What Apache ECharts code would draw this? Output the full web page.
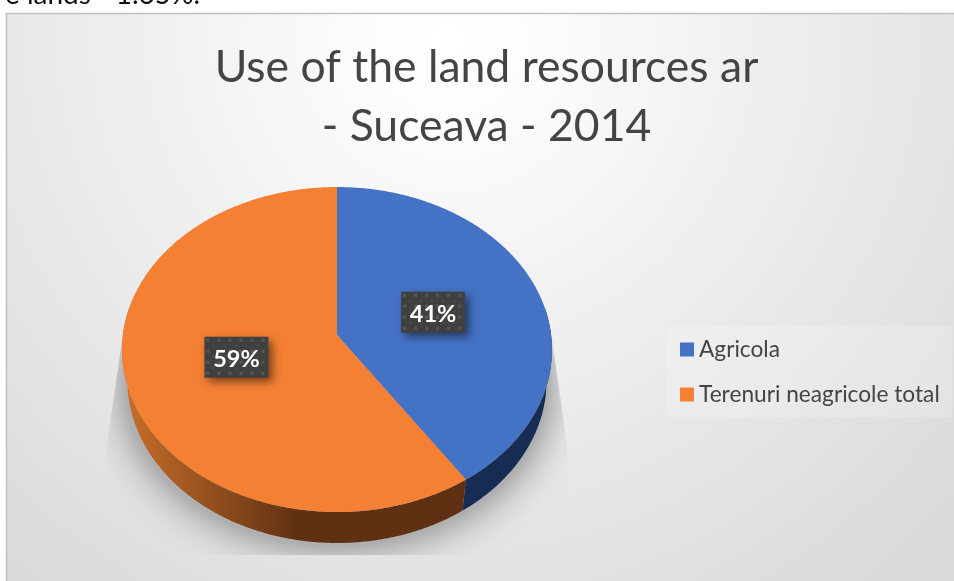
<!DOCTYPE html>
<html>
<head>
<meta charset="utf-8">
<style>html,body{margin:0;padding:0;background:#fff}#c{width:954px;height:581px}</style>
<script src="https://cdn.jsdelivr.net/npm/echarts@6/dist/echarts.min.js"></script>
</head>
<body>
<div id="c"></div>
<script>
const categories = ['Agricola', 'Terenuri neagricole total'];
const shares = [40.6, 59.4];
const titleLines = ['Use of the land resources ar', '- Suceava - 2014'];
const clippedNote = 'e lands - 1.65%.';

const total = shares.reduce((a, b) => a + b, 0);
const FONT = 'Lato, "Open Sans", sans-serif';
const CX = 337, CY = 335, RX = 214.1, RY = 161.2, K = 0.0893, DEPTH = 31, SHRINK = 0.975;

function project(deg, rho) {
  const t = deg * Math.PI / 180, u = rho * Math.sin(t), v = -rho * Math.cos(t), w = 1 - K * v;
  return [CX + RX * u / w, CY + RY * v / w];
}
function arc(a, b) {
  const pts = [], n = Math.max(2, Math.ceil(Math.abs(b - a) * 2));
  for (let i = 0; i <= n; i++) pts.push(project(a + (b - a) * i / n, 1));
  return pts;
}
function sliceAngles(i) {
  let s = 0;
  for (let j = 0; j < i; j++) s += shares[j];
  return [s / total * 360, (s + shares[i]) / total * 360];
}
const dots = document.createElement('canvas');
dots.width = dots.height = 11;
(function () {
  const g = dots.getContext('2d');
  g.fillStyle = '#404040'; g.fillRect(0, 0, 11, 11);
  g.fillStyle = '#575757'; g.fillRect(2, 2, 3, 3);
  g.fillStyle = '#4c4c4c'; g.fillRect(8, 8, 2, 2);
})();

function renderSlice(i, sideFill, topFill) {
  return function () {
    const [a, b] = sliceAngles(i);
    const fa = Math.max(a, 80), fb = Math.min(b, 280);
    const top = arc(fa, fb);
    const low = top.slice().reverse().map(p => [CX + (p[0] - CX) * SHRINK, p[1] + DEPTH]);
    const face = [project(0, 0)].concat(arc(a, b));
    const mid = project((a + b) / 2, 0.48);
    const pct = Math.round(shares[i] / total * 100) + '%';
    return {
      type: 'group',
      children: [
        { type: 'polygon', shape: { points: top.concat(low) }, style: { fill: sideFill } },
        { type: 'polygon', shape: { points: face }, style: { fill: topFill } },
        {
          type: 'rect', x: mid[0] - 33, y: mid[1] - 21,
          shape: { x: 0, y: 0, width: 64, height: 41 },
          style: {
            fill: { image: dots, repeat: 'repeat' },
            shadowBlur: 8, shadowOffsetX: 4, shadowOffsetY: 4, shadowColor: 'rgba(0,0,0,0.5)'
          }
        },
        {
          type: 'text', x: mid[0] - 1, y: mid[1] + 1.5,
          style: {
            text: pct, fill: '#fff', font: 'bold 23.5px ' + FONT,
            align: 'center', verticalAlign: 'middle'
          }
        }
      ]
    };
  };
}

function renderShadow() {
  return {
    type: 'ellipse',
    shape: { cx: 337, cy: 385, rx: 212, ry: 160 },
    style: { fill: '#b0b0b0', shadowBlur: 44, shadowColor: 'rgba(110,110,110,0.95)' },
    clipPath: {
      type: 'polygon',
      shape: { points: [[122, 340], [107, 445], [107, 555], [567, 555], [567, 445], [552, 340]] }
    }
  };
}

const chart = echarts.init(document.getElementById('c'), null, { renderer: 'canvas' });
chart.setOption({
  animation: false,
  backgroundColor: '#ffffff',
  title: {
    text: titleLines.join('\n'),
    left: 481.5, top: 33, textAlign: 'center',
    textStyle: { fontFamily: FONT, fontWeight: 'normal', fontSize: 44.5, lineHeight: 59, color: '#444444' }
  },
  legend: {
    data: categories,
    orient: 'vertical', left: 667, top: 326,
    padding: [12, 12, 11, 13],
    backgroundColor: 'rgba(255,255,255,0.2)',
    itemWidth: 14, itemHeight: 14, itemGap: 22, icon: 'rect',
    selectedMode: false,
    textStyle: { fontFamily: FONT, fontSize: 22.7, color: '#444444' }
  },
  graphic: [
    {
      type: 'rect', z: -10, silent: true,
      shape: { x: 6.5, y: 13.5, width: 960, height: 580 },
      style: {
        stroke: '#bfbfbf', lineWidth: 1.5,
        fill: new echarts.graphic.RadialGradient(450, 40, 700, [
          { offset: 0, color: '#ffffff' }, { offset: 0.1, color: '#fdfdfd' }, { offset: 1, color: '#d9d9d9' }
        ], true)
      }
    },
    {
      type: 'text', z: -5, silent: true, x: 5, y: 9,
      style: { text: clippedNote, fill: '#111', font: '28px ' + FONT, verticalAlign: 'bottom' }
    }
  ],
  series: [
    { type: 'custom', name: 'shadow', coordinateSystem: 'none', z: 1, silent: true, data: [[0]], renderItem: renderShadow },
    {
      type: 'custom', name: categories[0], coordinateSystem: 'none', z: 2, silent: true,
      itemStyle: { color: '#4472c4' }, data: [[shares[0]]],
      renderItem: renderSlice(0, '#172c52', '#4472c4')
    },
    {
      type: 'custom', name: categories[1], coordinateSystem: 'none', z: 2, silent: true,
      itemStyle: { color: '#f38033' }, data: [[shares[1]]],
      renderItem: renderSlice(1,
        new echarts.graphic.LinearGradient(122, 0, 300, 0, [
          { offset: 0, color: '#c96f2b' }, { offset: 1, color: '#5f3012' }
        ], true),
        '#f38033')
    }
  ]
});
</script>
</body>
</html>
